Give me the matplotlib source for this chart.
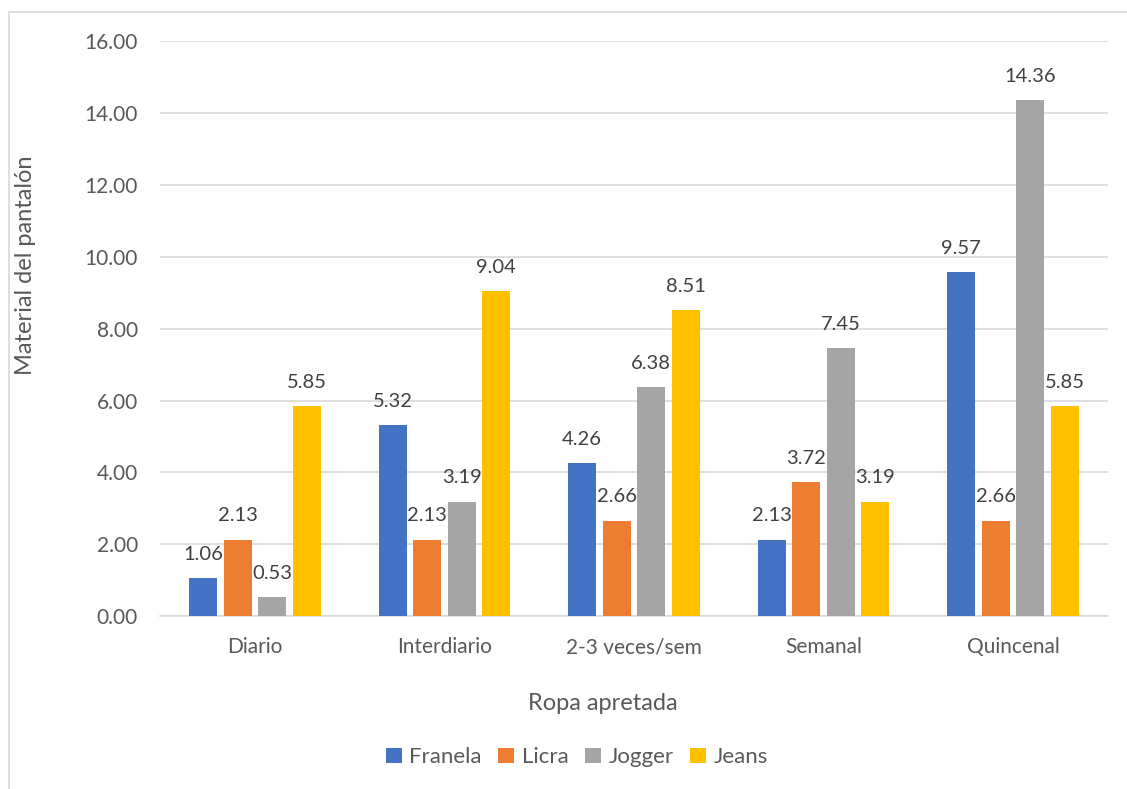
import numpy as np
import matplotlib.pyplot as plt
from matplotlib.patches import Rectangle

categorias = ['Diario', 'Interdiario', '2-3 veces/sem', 'Semanal', 'Quincenal']
series = ['Franela', 'Licra', 'Jogger', 'Jeans']
franela = [1.06, 5.32, 4.26, 2.13, 9.57]
licra = [2.13, 2.13, 2.66, 3.72, 2.66]
jogger = [0.53, 3.19, 6.38, 7.45, 14.36]
jeans = [5.85, 9.04, 8.51, 3.19, 5.85]
colores = ['#4472C4', '#ED7D31', '#A5A5A5', '#FFC000']

plt.rcParams['font.family'] = ['Lato', 'DejaVu Sans']

fig = plt.figure(figsize=(11.27, 7.89), dpi=100)
ax = fig.add_axes([0.142, 0.219, 0.841, 0.729])

# borde del grafico (solo visible arriba e izquierda)
fig.patches.append(Rectangle((9 / 1127, -0.1), 1.2, 0.1 + (789 - 12) / 789,
                             transform=fig.transFigure, fill=False,
                             edgecolor='#D9D9D9', linewidth=1.2))

x = np.arange(len(categorias))
ancho = 0.148
paso = 0.182
valores = [franela, licra, jogger, jeans]
for i, (nombre, vals) in enumerate(zip(series, valores)):
    pos = x + (i - 1.5) * paso
    barras = ax.bar(pos, vals, ancho, color=colores[i], label=nombre, zorder=3)
    for b, v in zip(barras, vals):
        ax.annotate(f'{v:.2f}', (b.get_x() + b.get_width() / 2, v),
                    xytext=(0, 11), textcoords='offset points',
                    ha='center', va='bottom', fontsize=14.5, color='#404040')

ax.set_xlim(-0.5, len(categorias) - 0.5)
ax.set_ylim(0, 16)
ax.set_yticks(np.arange(0, 17, 2))
ax.set_yticklabels([f'{t:.2f}' for t in np.arange(0, 17, 2)])
ax.set_xticks(x)
ax.set_xticklabels(categorias)
ax.tick_params(axis='both', length=0, labelsize=15, labelcolor='#595959')
ax.tick_params(axis='x', pad=15)
ax.tick_params(axis='y', pad=16)
ax.grid(axis='y', color='#D9D9D9', linewidth=1.2, zorder=0)
for s in ['top', 'right', 'left']:
    ax.spines[s].set_visible(False)
ax.spines['bottom'].set_color('#D9D9D9')
ax.spines['bottom'].set_linewidth(1.2)

ax.set_xlabel('Ropa apretada', fontsize=17, color='#595959')
ax.xaxis.set_label_coords(0.467, -0.134)
ax.set_ylabel('Material del pantalón', fontsize=17, color='#595959')
ax.yaxis.set_label_coords(-0.131, 0.61)

fig.legend(loc='center', bbox_to_anchor=(0.512, 0.04), ncol=4, frameon=False,
           fontsize=16, labelcolor='#595959', handlelength=0.7, handleheight=0.7,
           handletextpad=0.35, columnspacing=0.75)

fig.savefig('out.png', dpi=100)
